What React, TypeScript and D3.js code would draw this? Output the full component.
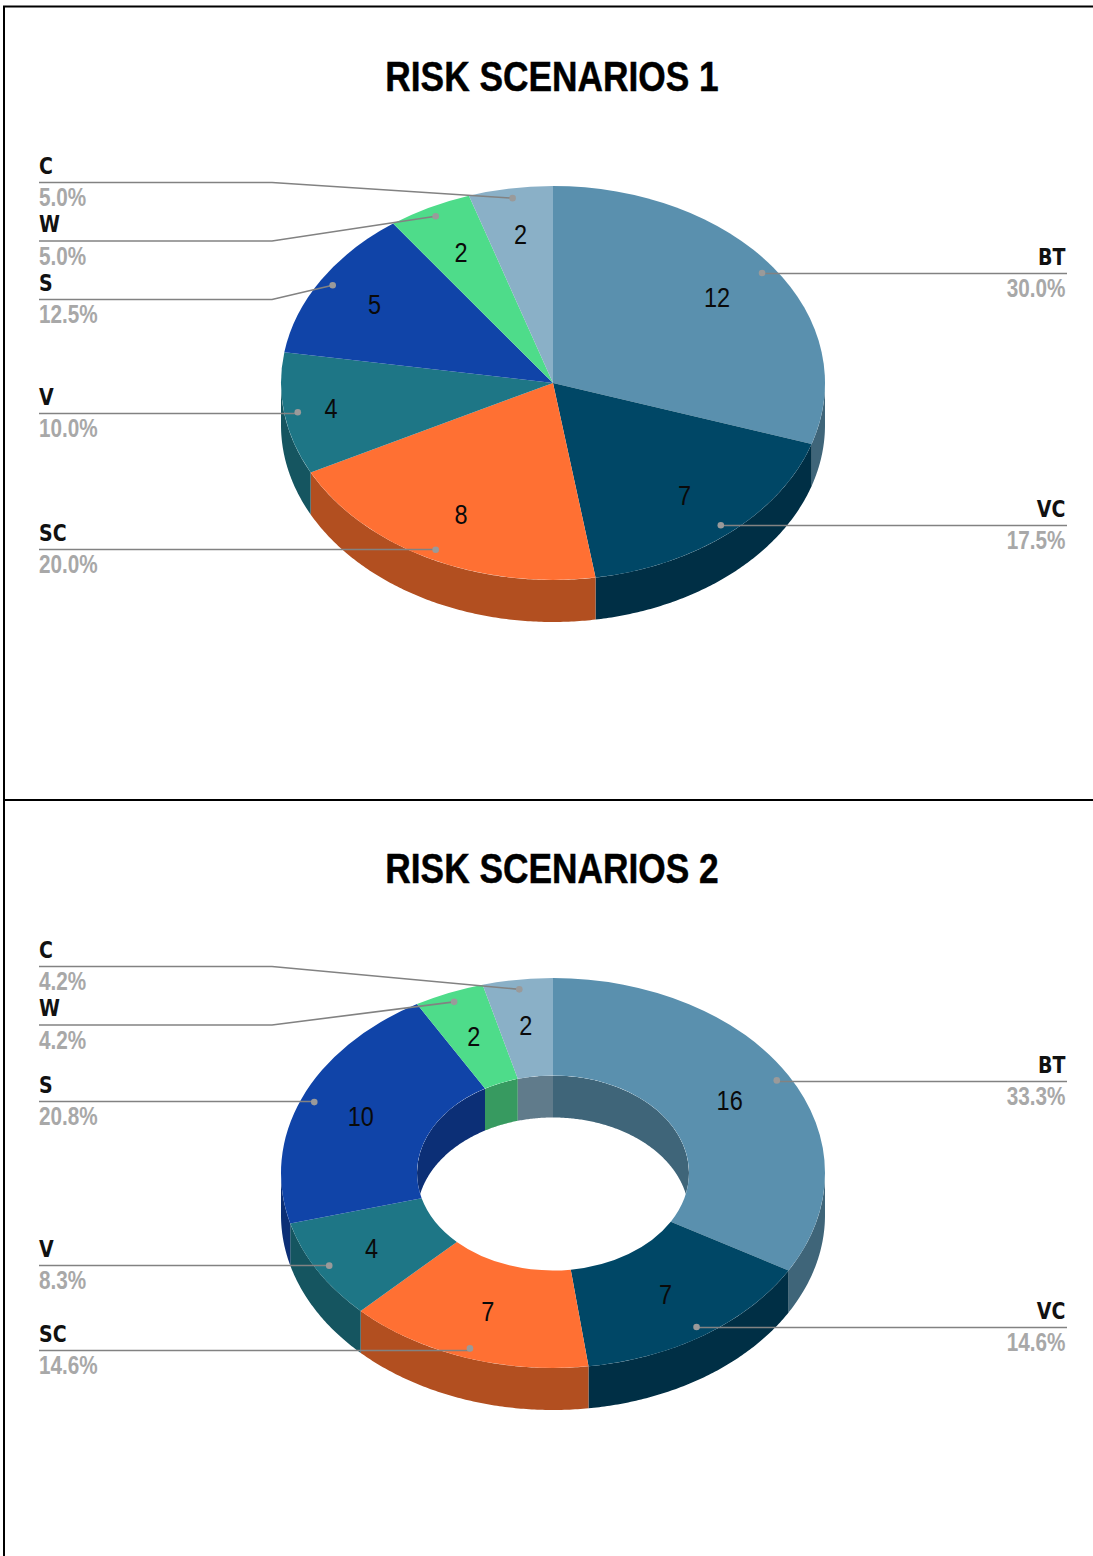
import React from "react";
import * as d3 from "d3";

// Shared categories and slice colours
const categories = ["BT", "VC", "SC", "V", "S", "W", "C"];
const topColors = ["#5a90ae", "#004766", "#ff7033", "#1e7686", "#1044a8", "#4edc8a", "#8ab0c7"];
const wallColors = ["#3f6579", "#002f45", "#b24f20", "#155560", "#0c2f76", "#379a60", "#607b8b"];

// Counts per category for each scenario
const scenario1Values = [12, 7, 8, 4, 5, 2, 2];
const scenario2Values = [16, 7, 7, 4, 10, 2, 2];

// Percent labels as printed next to each leader
const scenario1Percents = ["30.0%", "17.5%", "20.0%", "10.0%", "12.5%", "5.0%", "5.0%"];
const scenario2Percents = ["33.3%", "14.6%", "14.6%", "8.3%", "20.8%", "4.2%", "4.2%"];

// Vertical position of each leader's horizontal run
const scenario1Rows = [273.5, 525.5, 549.5, 413.5, 299.5, 241, 182.5];
const scenario2Rows = [1081.5, 1327.5, 1350.5, 1265.5, 1101.5, 1025, 966.5];

// Radial placement of the value labels inside their slices
const scenario1ValueRatios = [0.745, 0.745, 0.745, 0.826, 0.77, 0.745, 0.765];
const scenario2ValueRatios = [0.75, 0.745, 0.745, 0.77, 0.765, 0.76, 0.765];

const RX = 272;
const DEPTH = 42;
const CX = 553;
const LEFT_X = 39;
const RIGHT_X = 1065.5;
const KNEE_X = 272;
const DOT_RATIO = 0.95;
const STRETCH = 1.2;
const SANS = "'Liberation Sans', Arial, sans-serif";
const WIDE_SANS = "'DejaVu Sans', Verdana, sans-serif";

// Stretched text: the chart's type is taller than its natural proportions
function Label(props: {
  x: number;
  y: number;
  size: number;
  anchor: string;
  weight?: string;
  fill: string;
  family?: string;
  outline?: number;
  children: React.ReactNode;
}) {
  return (
    <text
      transform={`translate(${props.x},${props.y}) scale(1,${STRETCH})`}
      textAnchor={props.anchor}
      fontFamily={props.family ?? SANS}
      fontSize={props.size}
      fontWeight={props.weight ?? "normal"}
      fill={props.fill}
      stroke={props.outline ? props.fill : "none"}
      strokeWidth={props.outline ?? 0}
    >
      {props.children}
    </text>
  );
}

// Point on an ellipse; angles run clockwise from twelve o'clock
function ellipsePoint(cy: number, ry: number, angle: number, ratio: number): [number, number] {
  return [CX + RX * ratio * Math.sin(angle), cy - ry * ratio * Math.cos(angle)];
}

// Band between an elliptical arc and the same arc pushed down by the chart depth
function wallPath(cy: number, ry: number, a0: number, a1: number, ratio: number): string {
  const n = Math.max(2, Math.ceil(Math.abs(a1 - a0) / 0.01));
  const angles = d3.range(n + 1).map((i) => a0 + ((a1 - a0) * i) / n);
  const upper = angles.map((a) => ellipsePoint(cy, ry, a, ratio));
  const lower = upper.map(([x, y]) => [x, y + DEPTH] as [number, number]).reverse();
  return (d3.line()([...upper, ...lower]) ?? "") + "Z";
}

function Pie3D(props: {
  id: string;
  title: string;
  titleY: number;
  cy: number;
  ry: number;
  hole: number;
  values: number[];
  percents: string[];
  rows: number[];
  valueRatios: number[];
}) {
  const { id, title, titleY, cy, ry, hole, values, percents, rows, valueRatios } = props;
  const slices = d3.pie<number>().sort(null)(values);
  const arc = d3.arc<d3.PieArcDatum<number>>().innerRadius(RX * hole).outerRadius(RX);
  const half = Math.PI / 2;

  return (
    <g>
      <Label x={552} y={titleY} size={35.3} anchor="middle" weight="bold" fill="#000" outline={0.4}>
        {title}
      </Label>

      {/* outer wall: only the front half of the rim faces the viewer */}
      {slices.map((s, i) => {
        const a0 = Math.max(s.startAngle, half);
        const a1 = Math.min(s.endAngle, 3 * half);
        return a1 > a0 ? <path key={i} d={wallPath(cy, ry, a0, a1, 1)} fill={wallColors[i]} /> : null;
      })}

      {/* inner wall: the far half of the hole, seen through its opening */}
      {hole > 0 && (
        <g clipPath={`url(#${id})`}>
          <clipPath id={id}>
            <ellipse cx={CX} cy={cy} rx={RX * hole} ry={ry * hole} />
          </clipPath>
          {slices.map((s, i) => {
            const ranges: [number, number][] = [
              [Math.max(s.startAngle, 3 * half), Math.min(s.endAngle, 4 * half)],
              [s.startAngle, Math.min(s.endAngle, half)],
            ];
            return ranges.map(([a0, a1], k) =>
              a1 > a0 ? <path key={`${i}-${k}`} d={wallPath(cy, ry, a0, a1, hole)} fill={wallColors[i]} /> : null
            );
          })}
        </g>
      )}

      {/* top surface */}
      <g transform={`translate(${CX},${cy}) scale(1,${ry / RX})`}>
        {slices.map((s, i) => (
          <path key={i} d={arc(s) ?? ""} fill={topColors[i]} />
        ))}
      </g>

      {/* value labels */}
      {slices.map((s, i) => {
        const [x, y] = ellipsePoint(cy, ry, (s.startAngle + s.endAngle) / 2, valueRatios[i]);
        return (
          <Label key={i} x={x} y={y + 10} size={23.5} anchor="middle" fill="#0a0a0a">
            {values[i]}
          </Label>
        );
      })}

      {/* leaders and category labels */}
      {slices.map((s, i) => {
        const mid = (s.startAngle + s.endAngle) / 2;
        const [dx, dy] = ellipsePoint(cy, ry, mid, DOT_RATIO);
        const onRight = mid < Math.PI;
        const rowY = rows[i];
        const nearlyLevel = Math.abs(dy - rowY) < 4;
        const pts: [number, number][] = onRight
          ? [[RIGHT_X + 1.5, rowY], [dx, rowY], [dx, dy]]
          : nearlyLevel
            ? [[LEFT_X, rowY], [dx, rowY], [dx, dy]]
            : [[LEFT_X, rowY], [KNEE_X, rowY], [dx, dy]];
        const textX = onRight ? RIGHT_X : LEFT_X;
        const anchor = onRight ? "end" : "start";
        return (
          <g key={i}>
            <path d={d3.line()(pts) ?? ""} fill="none" stroke="#828282" strokeWidth={1.6} />
            <circle cx={dx} cy={dy} r={3.3} fill="#9a9a9a" />
            <Label
              x={textX}
              y={rowY - 9}
              size={19}
              anchor={anchor}
              weight="bold"
              fill="#111"
              family={WIDE_SANS}
            >
              {categories[i]}
            </Label>
            <Label x={textX} y={rowY + 23.5} size={20.7} anchor={anchor} weight="bold" fill="#a8a8a8">
              {percents[i]}
            </Label>
          </g>
        );
      })}
    </g>
  );
}

export default function App() {
  return (
    <svg
      width={1093}
      height={1556}
      style={{ position: "absolute", left: 0, top: 0, display: "block" }}
    >
      <rect width={1093} height={1556} fill="#fff" />
      {/* panel frame */}
      <path d="M4,1556V6.5H1093M4,800H1093" fill="none" stroke="#000" strokeWidth={2} />
      <Pie3D
        id="hole1"
        title="RISK SCENARIOS 1"
        titleY={91}
        cy={383}
        ry={197}
        hole={0}
        values={scenario1Values}
        percents={scenario1Percents}
        rows={scenario1Rows}
        valueRatios={scenario1ValueRatios}
      />
      <Pie3D
        id="hole2"
        title="RISK SCENARIOS 2"
        titleY={883}
        cy={1173}
        ry={195}
        hole={0.5}
        values={scenario2Values}
        percents={scenario2Percents}
        rows={scenario2Rows}
        valueRatios={scenario2ValueRatios}
      />
    </svg>
  );
}
